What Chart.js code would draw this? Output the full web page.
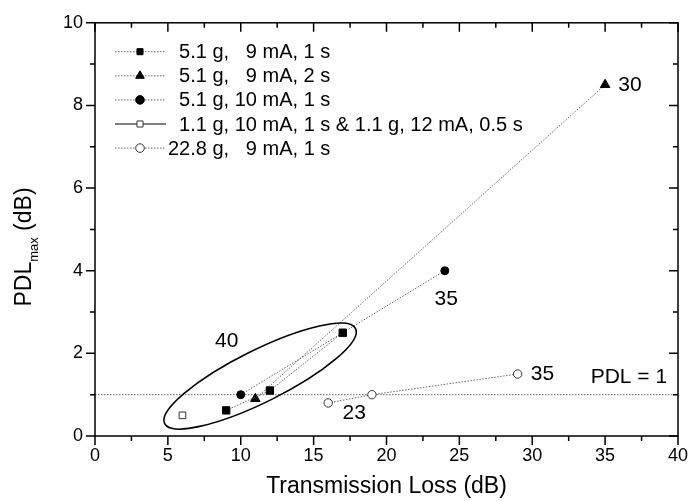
<!DOCTYPE html>
<html>
<head>
<meta charset="utf-8">
<script src="https://cdn.jsdelivr.net/npm/chart.js@4.4.1/dist/chart.umd.min.js"></script>
<style>
  html, body { margin: 0; padding: 0; background: #fff; }
  #wrap { width: 697px; height: 501px; }
</style>
</head>
<body>
<div id="wrap"><canvas id="pdlChart" width="697" height="501"></canvas></div>
<script>
// series (x = transmission loss dB, y = PDLmax dB)
const seriesLabels = [
    "  5.1 g,   9 mA, 1 s",
    "  5.1 g,   9 mA, 2 s",
    "  5.1 g, 10 mA, 1 s",
    "  1.1 g, 10 mA, 1 s & 1.1 g, 12 mA, 0.5 s",
    "22.8 g,   9 mA, 1 s",
];
const squares9mA1s = [{ x: 9, y: 0.62 }, { x: 12, y: 1.1 }, { x: 17, y: 2.5 }];
const triangles9mA2s = [{ x: 11, y: 0.9 }, { x: 35, y: 8.5 }];
const circles10mA1s = [{ x: 10, y: 1.0 }, { x: 24, y: 4.0 }];
const openSquares1g = [{ x: 6, y: 0.5 }];
const openCircles22g = [{ x: 16, y: 0.8 }, { x: 19, y: 1.0 }, { x: 29, y: 1.5 }];
const pdlThreshold = 1;

const xTickValues = [0, 5, 10, 15, 20, 25, 30, 35, 40];
const yTickValues = [0, 2, 4, 6, 8, 10];

// text notes placed in data units
const notes = [
    { text: "40", x: 9.04, y: 2.3 },
    { text: "30", x: 36.7, y: 8.5 },
    { text: "35", x: 24.1, y: 3.31 },
    { text: "35", x: 30.7, y: 1.5 },
    { text: "23", x: 17.78, y: 0.54 },
    { text: "PDL = 1", x: 36.63, y: 1.43 },
];
// ellipse round the 40 group: ends of the long axis in data units
const ellipseEnds = [{ x: 4.78, y: 0.3 }, { x: 17.88, y: 2.6 }];

const FONT = "Arial, 'Liberation Sans', sans-serif";
const lineGrey = "#555";
const dotted = [1.5, 1.5];

function series(label, data, style, radius, fill, dash) {
    return {
        label: label,
        data: data,
        showLine: data.length > 1,
        borderColor: lineGrey,
        borderWidth: 0.9,
        borderDash: dash,
        pointStyle: style,
        pointRadius: radius,
        pointBorderWidth: 1,
        pointBackgroundColor: fill,
        pointBorderColor: fill === "#fff" ? "#333" : "#000",
    };
}

const datasets = [
    series(seriesLabels[0], squares9mA1s, "rect", 5.2, "#000", dotted),
    series(seriesLabels[1], triangles9mA2s, "triangle", 5.5, "#000", dotted),
    series(seriesLabels[2], circles10mA1s, "circle", 4, "#000", dotted),
    series(seriesLabels[3], openSquares1g, "rect", 4.7, "#fff", []),
    series(seriesLabels[4], openCircles22g, "circle", 4.2, "#fff", dotted),
    {
        label: "PDL = 1",
        data: [{ x: 0, y: pdlThreshold }, { x: 40, y: pdlThreshold }],
        showLine: true,
        borderColor: "#666",
        borderWidth: 1,
        borderDash: [1.5, 1.5],
        pointRadius: 0,
        order: 10,
    },
];

// frame, ticks, legend, notes, ellipse, axis titles
const decorations = {
    id: "decorations",
    afterDatasetsDraw(chart) {
        const ctx = chart.ctx;
        const a = chart.chartArea;
        const xs = chart.scales.x;
        const ys = chart.scales.y;
        ctx.save();

        // ellipse
        const p1 = { x: xs.getPixelForValue(ellipseEnds[0].x), y: ys.getPixelForValue(ellipseEnds[0].y) };
        const p2 = { x: xs.getPixelForValue(ellipseEnds[1].x), y: ys.getPixelForValue(ellipseEnds[1].y) };
        const cx = (p1.x + p2.x) / 2, cy = (p1.y + p2.y) / 2;
        const rx = Math.hypot(p2.x - p1.x, p2.y - p1.y) / 2;
        const ang = Math.atan2(p2.y - p1.y, p2.x - p1.x);
        ctx.beginPath();
        ctx.ellipse(cx, cy, rx, 26, ang, 0, Math.PI * 2);
        ctx.strokeStyle = "#000";
        ctx.lineWidth = 1.6;
        ctx.stroke();

        // frame
        ctx.lineWidth = 1.5;
        ctx.strokeRect(a.left, a.top, a.right - a.left, a.bottom - a.top);

        // ticks: bottom/left outward, top/right inward
        ctx.beginPath();
        for (let v = 0; v <= 40; v += 2.5) {
            const len = v % 5 === 0 ? 9 : 5;
            const px = xs.getPixelForValue(v);
            ctx.moveTo(px, a.bottom); ctx.lineTo(px, a.bottom + len);
            ctx.moveTo(px, a.top); ctx.lineTo(px, a.top + len);
        }
        for (let v = 0; v <= 10; v += 1) {
            const len = v % 2 === 0 ? 9 : 5;
            const py = ys.getPixelForValue(v);
            ctx.moveTo(a.left, py); ctx.lineTo(a.left - len, py);
            ctx.moveTo(a.right, py); ctx.lineTo(a.right - len, py);
        }
        ctx.stroke();

        // legend
        ctx.font = "20px " + FONT;
        ctx.textBaseline = "middle";
        ctx.textAlign = "left";
        datasets.slice(0, 5).forEach((ds, i) => {
            const y = 51.7 + i * 24.1;
            ctx.save();
            ctx.strokeStyle = ds.borderDash.length ? lineGrey : "#000";
            ctx.lineWidth = ds.borderDash.length ? 0.9 : 1;
            ctx.setLineDash(ds.borderDash);
            ctx.beginPath();
            ctx.moveTo(115, y); ctx.lineTo(166, y);
            ctx.stroke();
            ctx.setLineDash([]);
            ctx.fillStyle = ds.pointBackgroundColor;
            ctx.strokeStyle = ds.pointBorderColor;
            ctx.lineWidth = 1;
            Chart.helpers.drawPoint(ctx, {
                pointStyle: ds.pointStyle,
                radius: ds.pointStyle === "triangle" ? 5 : 4.3,
                rotation: 0,
                borderWidth: 1,
            }, 140, y);
            ctx.restore();
            ctx.fillStyle = "#000";
            ctx.fillText(ds.label, 168, y + 1);
        });

        // notes
        ctx.font = "21px " + FONT;
        ctx.textAlign = "center";
        notes.forEach(n => {
            ctx.fillText(n.text, xs.getPixelForValue(n.x), ys.getPixelForValue(n.y));
        });

        // x title
        ctx.font = "23px " + FONT;
        ctx.fillText("Transmission Loss (dB)", (a.left + a.right) / 2, 487);

        // y title with subscript
        const main1 = "PDL", sub = "max", main2 = " (dB)";
        ctx.font = "23px " + FONT;
        const w1 = ctx.measureText(main1).width;
        const w3 = ctx.measureText(main2).width;
        ctx.font = "13px " + FONT;
        const w2 = ctx.measureText(sub).width;
        const total = w1 + w2 + w3;
        ctx.translate(31, 247);
        ctx.rotate(-Math.PI / 2);
        ctx.textAlign = "left";
        ctx.textBaseline = "alphabetic";
        ctx.font = "23px " + FONT;
        ctx.fillText(main1, -total / 2, 0);
        ctx.font = "13px " + FONT;
        ctx.fillText(sub, -total / 2 + w1, 7);
        ctx.font = "23px " + FONT;
        ctx.fillText(main2, -total / 2 + w1 + w2, 0);

        ctx.restore();
    },
};

new Chart(document.getElementById("pdlChart"), {
    type: "scatter",
    data: { datasets: datasets },
    options: {
        responsive: false,
        animation: false,
        layout: { padding: { top: 18, right: 9, left: 0, bottom: 0 } },
        plugins: {
            legend: { display: false },
            tooltip: { enabled: false },
        },
        scales: {
            x: {
                type: "linear",
                min: 0,
                max: 40,
                afterBuildTicks: s => { s.ticks = xTickValues.map(v => ({ value: v })); },
                afterFit: s => { s.height = 65; },
                grid: { display: false, drawTicks: false },
                border: { display: false },
                ticks: { color: "#000", padding: 9, font: { size: 18, family: FONT } },
            },
            y: {
                type: "linear",
                min: 0,
                max: 10,
                afterBuildTicks: s => { s.ticks = yTickValues.map(v => ({ value: v })); },
                afterFit: s => { s.width = 95; },
                grid: { display: false, drawTicks: false },
                border: { display: false },
                ticks: { color: "#000", padding: 12, font: { size: 18, family: FONT } },
            },
        },
    },
    plugins: [decorations],
});
</script>
</body>
</html>
